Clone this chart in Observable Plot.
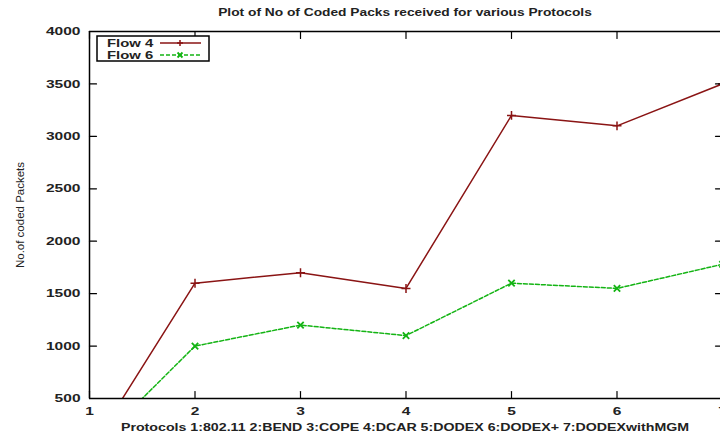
<!DOCTYPE html>
<html><head><meta charset="utf-8">
<script src="https://cdn.jsdelivr.net/npm/d3@7"></script>
<script src="https://cdn.jsdelivr.net/npm/@observablehq/plot@0.6"></script>
<style>
body{margin:0;background:#fff}
#chart svg text{font-family:"Liberation Sans",Arial,sans-serif}
</style>
</head><body><div id="chart"></div>
<script>
const protocols = [1, 2, 3, 4, 5, 6, 7];
const flow4 = [0, 1600, 1700, 1550, 3200, 3100, 3500];
const flow6 = [0, 1000, 1200, 1100, 1600, 1550, 1780];
const seriesNames = ["Flow 4", "Flow 6"];
const seriesColors = ["#8a1414", "#14b414"];
const xTicks = [1, 2, 3, 4, 5, 6, 7];
const yTicks = [500, 1000, 1500, 2000, 2500, 3000, 3500, 4000];
const xDomain = [1, 7];
const yDomain = [500, 4000];
const titleText = "Plot of No of Coded Packs received for various Protocols";
const xLabelText = "Protocols 1:802.11 2:BEND 3:COPE 4:DCAR 5:DODEX 6:DODEX+ 7:DODEXwithMGM";
const yLabelText = "No.of coded Packets";

const data = protocols.flatMap((p, i) => [
  {protocol: p, packets: flow4[i], series: seriesNames[0]},
  {protocol: p, packets: flow6[i], series: seriesNames[1]}
]);
const d4 = data.filter(d => d.series === seriesNames[0]);
const d6 = data.filter(d => d.series === seriesNames[1]);

const tickShape = {draw(ctx, l) { ctx.moveTo(0, 0); ctx.lineTo(0, -l); }};
const TL = 7;

const chart = Plot.plot({
  width: 720, height: 439,
  marginTop: 31, marginLeft: 89, marginBottom: 41, marginRight: 0,
  style: {fontFamily: "Liberation Sans, Arial, sans-serif", background: "#fff"},
  x: {domain: xDomain, range: [89, 722]},
  y: {domain: yDomain, range: [398, 31]},
  marks: [
    Plot.line(d4, {x: "protocol", y: "packets", stroke: seriesColors[0], strokeWidth: 1.5, clip: true}),
    Plot.line(d6, {x: "protocol", y: "packets", stroke: seriesColors[1], strokeWidth: 1.5, strokeDasharray: "4,2", clip: true}),
    Plot.dot(d4, {x: "protocol", y: "packets", symbol: "plus", r: 3, stroke: seriesColors[0], strokeWidth: 1.5, clip: true}),
    Plot.dot(d6, {x: "protocol", y: "packets", symbol: "times", r: 3, stroke: seriesColors[1], strokeWidth: 1.8, clip: true}),
    Plot.ruleX([xDomain[0]], {stroke: "black", strokeWidth: 1.5}),
    Plot.ruleY([yDomain[0], yDomain[1]], {stroke: "black", strokeWidth: 1.5}),
    Plot.vector(xTicks, {x: d => d, y: yDomain[0], length: TL, anchor: "start", shape: tickShape, stroke: "black", strokeWidth: 1.2}),
    Plot.vector(xTicks, {x: d => d, y: yDomain[1], length: TL, rotate: 180, anchor: "start", shape: tickShape, stroke: "black", strokeWidth: 1.2}),
    Plot.vector(yTicks, {x: xDomain[0], y: d => d, length: TL, rotate: 90, anchor: "start", shape: tickShape, stroke: "black", strokeWidth: 1.2}),
    Plot.vector(yTicks, {x: xDomain[1], y: d => d, length: TL, rotate: -90, anchor: "start", shape: tickShape, stroke: "black", strokeWidth: 1.2}),
    Plot.axisX(xTicks, {tickSize: 0, tickPadding: 8, fontSize: 11.5, fontWeight: "bold", fill: "#222", label: null, tickFormat: d3.format("d"), className: "stretchA"}),
    Plot.axisY(yTicks, {tickSize: 0, tickPadding: 9, fontSize: 11.5, fontWeight: "bold", fill: "#222", label: null, tickFormat: d3.format("d"), className: "stretchA"}),
    Plot.text([titleText], {text: d => d, frameAnchor: "top", textAnchor: "middle", dy: -23, fontSize: 11, fontWeight: "bold", fill: "#222", className: "stretchT"}),
    Plot.text([xLabelText], {text: d => d, frameAnchor: "bottom", textAnchor: "middle", dy: 32, fontSize: 11, fontWeight: "bold", fill: "#222", className: "stretchX"}),
    Plot.text([yLabelText], {text: d => d, frameAnchor: "left", textAnchor: "middle", dx: -69, rotate: -90, fontSize: 11.5, fill: "#222"})
  ]
});
document.getElementById("chart").appendChild(chart);

// legend inside the plot (top-left)
const svg = d3.select(chart);
const lg = svg.append("g").attr("class", "legend").attr("text-anchor", "start");
lg.append("rect").attr("x", 97).attr("y", 36).attr("width", 112).attr("height", 25)
  .attr("fill", "white").attr("stroke", "black").attr("stroke-width", 1.5);
seriesNames.forEach((name, i) => {
  const yy = 43 + i * 12;
  lg.append("text").attr("class", "stretchL").attr("x", 107).attr("y", yy + 4)
    .attr("text-anchor", "start")
    .attr("font-size", 11).attr("font-weight", "bold").attr("fill", "#222")
    .attr("font-family", "Liberation Sans, Arial, sans-serif").text(name);
  lg.append("line").attr("x1", 160).attr("x2", 201).attr("y1", yy).attr("y2", yy)
    .attr("stroke", seriesColors[i]).attr("stroke-width", 1.5)
    .attr("stroke-dasharray", i === 1 ? "4,2" : null);
  if (i === 0) {
    lg.append("path").attr("d", `M180,${yy - 3}V${yy + 3}M177,${yy}H183`)
      .attr("stroke", seriesColors[i]).attr("stroke-width", 1.5);
  } else {
    lg.append("path").attr("d", `M177.5,${yy - 2.5}L182.5,${yy + 2.5}M177.5,${yy + 2.5}L182.5,${yy - 2.5}`)
      .attr("stroke", seriesColors[i]).attr("stroke-width", 1.8);
  }
});

// emulate the horizontally stretched lettering of the original
function stretch(sel, k) {
  chart.querySelectorAll(sel).forEach(t => {
    const w = t.getComputedTextLength();
    if (w > 0) { t.setAttribute("textLength", w * k); t.setAttribute("lengthAdjust", "spacingAndGlyphs"); }
  });
}
stretch(".stretchA text", 1.35);
stretch(".stretchT text", 1.25);
stretch(".stretchX text", 1.29);
stretch("text.stretchL", 1.35);
</script></body></html>
